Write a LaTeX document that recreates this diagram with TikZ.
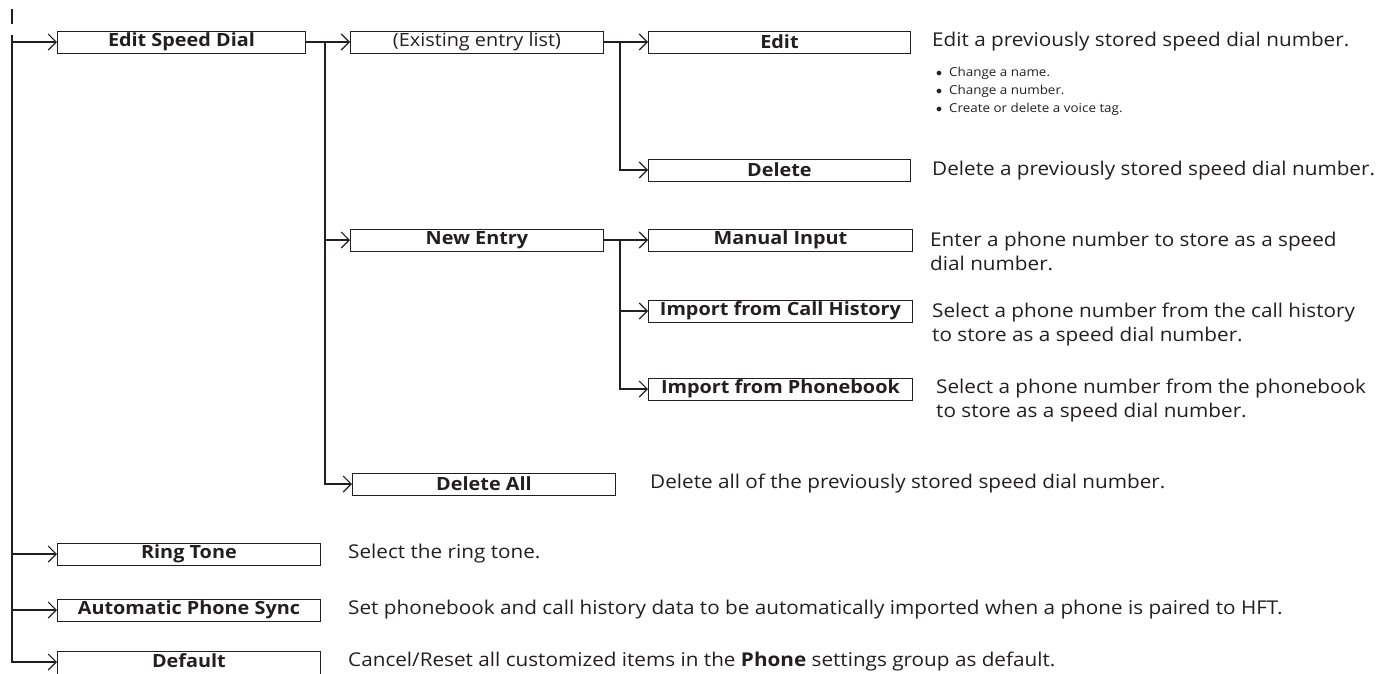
\documentclass[tikz,border=0pt]{standalone}
\usepackage{fontspec}
\setmainfont{Open Sans}[FakeStretch=1.09]
\usetikzlibrary{arrows.meta}
\definecolor{ink}{HTML}{231F20}
\begin{document}
\begin{tikzpicture}[x=1pt,y=-1pt,
 box/.style={draw=ink,line width=0.9pt,minimum height=22pt,inner sep=0pt,anchor=west,text=ink,font=\fontsize{18.2}{19}\selectfont\bfseries},
 conn/.style={draw=ink,line width=2pt},
 arr/.style={conn,-{Straight Barb[length=8pt,width=16pt,line width=1.1pt]}},
 desc/.style={anchor=west,align=left,inner sep=0pt,text=ink,font=\fontsize{19}{24}\selectfont},
 small/.style={anchor=north west,align=left,inner sep=0pt,text=ink,font=\fontsize{12.3}{18}\selectfont},
]
\useasboundingbox (0,0) rectangle (1381,673);
% tick
\coordinate (tk1) at (12,9);
\coordinate (tk2) at (12,24);
\draw[conn] (tk1) -- (tk2);
% boxes
\node[box,minimum width=248pt] (esd) at (57,42) {Edit Speed Dial};
\node[box,minimum width=253pt] (exist) at (350,42) {\mdseries(Existing entry list)};
\node[box,minimum width=262pt] (edit) at (648,42) {Edit};
\node[box,minimum width=262pt] (del) at (648,170) {Delete};
\node[box,minimum width=253pt] (newe) at (350,240) {New Entry};
\node[box,minimum width=264pt] (man) at (648,240) {Manual Input};
\node[box,minimum width=264pt] (call) at (648,311) {Import from Call History};
\node[box,minimum width=264pt] (pb) at (648,389) {Import from Phonebook};
\node[box,minimum width=263pt] (dall) at (352,484) {Delete All};
\node[box,minimum width=263pt] (ring) at (57,554) {Ring Tone};
\node[box,minimum width=263pt] (auto) at (57,610) {Automatic Phone Sync};
\node[box,minimum width=263pt,anchor=north west,text height=16pt,text depth=20pt] (dflt) at (57,651) {Default};
\coordinate (dfin) at ([yshift=-11pt]dflt.north west);
% connectors
\coordinate (j0) at (12,35);
\draw[arr] (j0) |- (esd.west);
\draw[arr] (j0) |- (ring.west);
\draw[arr] (j0) |- (auto.west);
\draw[arr] (j0) |- (dfin);
\coordinate (j1) at (325,42);
\draw[conn] (esd.east) -- (j1);
\draw[arr] (j1) -- (exist.west);
\draw[arr] (j1) |- (newe.west);
\draw[arr] (j1) |- (dall.west);
\coordinate (j2) at (620,42);
\draw[conn] (exist.east) -- (j2);
\draw[arr] (j2) -- (edit.west);
\draw[arr] (j2) |- (del.west);
\coordinate (j3) at (620,240);
\draw[conn] (newe.east) -- (j3);
\draw[arr] (j3) -- (man.west);
\draw[arr] (j3) |- (call.west);
\draw[arr] (j3) |- (pb.west);
% descriptions
\node[desc] (dedit) at (932,42) {Edit a previously stored speed dial number.};
\node[small] (bul) at (936,67) {$\bullet$\ \ Change a name.\\$\bullet$\ \ Change a number.\\$\bullet$\ \ Create or delete a voice tag.};
\node[desc] (ddel) at (932,171) {Delete a previously stored speed dial number.};
\node[desc,anchor=north west] (dman) at (930,232) {Enter a phone number to store as a speed\\dial number.};
\node[desc,anchor=north west] (dcall) at (932,303) {Select a phone number from the call history\\to store as a speed dial number.};
\node[desc,anchor=north west] (dpb) at (936,379) {Select a phone number from the phonebook\\to store as a speed dial number.};
\node[desc] (ddall) at (650,484) {Delete all of the previously stored speed dial number.};
\node[desc] (dring) at (348,554) {Select the ring tone.};
\node[desc] (dauto) at (348,610) {Set phonebook and call history data to be automatically imported when a phone is paired to HFT.};
\node[desc] (ddflt) at (348,662) {Cancel/Reset all customized items in the \textbf{Phone} settings group as default.};
\end{tikzpicture}
\end{document}
